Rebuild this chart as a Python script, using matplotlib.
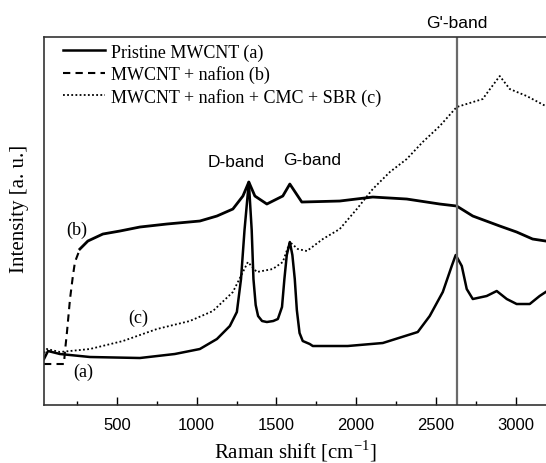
import numpy as np
import matplotlib
matplotlib.use('Agg')
import matplotlib.pyplot as plt


# Raman shift (cm-1) and intensity (a.u.)
shift_a = [43, 68, 143, 331, 644, 863, 1020, 1127, 1208, 1252, 1278, 1300, 1327,
           1345, 1356, 1370, 1385, 1410, 1440, 1480, 1509, 1535, 1550, 1565, 1584,
           1600, 1615, 1628, 1645, 1665, 1709, 1728, 1947, 2167, 2386, 2461, 2543,
           2599, 2624, 2662, 2693, 2731, 2818, 2881, 2944, 3006, 3088, 3150, 3188]
int_a = [46, 54, 51, 48, 47, 51, 56, 66, 79, 93, 126, 175, 223,
         175, 126, 100, 89, 84, 83, 84, 86, 98, 126, 150, 163,
         150, 126, 95, 72, 64, 61, 59, 59, 62, 73, 89, 113,
         139, 150, 139, 116, 106, 109, 114, 106, 101, 101, 109, 113]

shift_b = [43, 149, 168, 174, 187, 206, 224, 237, 268, 318, 412, 519, 644, 813,
           1020, 1127, 1227, 1290, 1327, 1365, 1440, 1540, 1584, 1659, 1897, 2104,
           2317, 2524, 2630, 2731, 2900, 3006, 3106, 3188]
int_b = [41, 41, 41, 53, 73, 106, 129, 143, 156, 164, 171, 174, 178, 181,
         184, 189, 196, 209, 223, 209, 201, 209, 221, 203, 204, 208,
         206, 201, 199, 189, 179, 173, 166, 164]

shift_c = [43, 61, 143, 331, 538, 751, 957, 1102, 1227, 1290, 1321, 1377, 1477,
           1540, 1584, 1634, 1691, 1791, 1897, 2004, 2104, 2211, 2317, 2417, 2524,
           2630, 2793, 2825, 2900, 2963, 3069, 3188]
int_c = [52, 56, 53, 56, 64, 76, 84, 94, 113, 133, 143, 133, 136,
         143, 163, 156, 154, 166, 176, 196, 216, 233, 246, 263, 279,
         298, 306, 313, 329, 316, 309, 299]

labels = ['Pristine MWCNT (a)', 'MWCNT + nafion (b)', 'MWCNT + nafion + CMC + SBR (c)']
g_prime = 2631

serif = 'Liberation Serif'
sans = 'Liberation Sans'

fig = plt.figure(figsize=(5.46, 4.64), dpi=100)
ax = fig.add_axes([0.0806, 0.125, 0.9194, 0.793])

la, = ax.plot(shift_a, int_a, '-', color='black', lw=1.8, label=labels[0])

# the rising part of (b) shows its dashes; the noisy plateau looks solid
n_dash = 9
lb, = ax.plot(shift_b[:n_dash], int_b[:n_dash], color='black', lw=1.5,
              dashes=(3.5, 2.5), label=labels[1])
ax.plot(shift_b[n_dash - 1:], int_b[n_dash - 1:], '-', color='black', lw=2.0)

lc, = ax.plot(shift_c, int_c, color='black', lw=1.3, dashes=(1, 1.3), label=labels[2])

ax.axvline(g_prime, color='#6a6a6a', lw=1.6)

ax.set_xlim(43, 3190)
ax.set_ylim(0, 368)
ax.set_xticks([500, 1000, 1500, 2000, 2500, 3000])
ax.set_xticks(np.arange(250, 3190, 500), minor=True)
ax.set_yticks([])
ax.tick_params(axis='x', which='major', direction='in', length=5.5, width=1.0,
               labelsize=12, pad=9)
ax.tick_params(axis='x', which='minor', direction='in', length=3, width=1.0)
for t in ax.get_xticklabels():
    t.set_fontfamily(sans)
ax.spines['right'].set_visible(False)
for s in ['left', 'bottom', 'top']:
    ax.spines[s].set_linewidth(1.2)
    ax.spines[s].set_color('#333333')

ax.set_xlabel('Raman shift [cm$^{\\mathregular{-1}}$]', fontfamily=serif, fontsize=15)
ax.set_ylabel('Intensity [a. u.]', fontfamily=serif, fontsize=15)
ax.xaxis.set_label_coords(0.5, -0.088)
ax.yaxis.set_label_coords(-0.03, 0.535)

ax.text(1246, 244, 'D-band', fontfamily=sans, fontsize=12.5, ha='center', va='center')
ax.text(1722, 246, 'G-band', fontfamily=sans, fontsize=12.5, ha='center', va='center')
ax.text(g_prime, 383, "G'-band", fontfamily=sans, fontsize=12.5, ha='center', va='center',
        clip_on=False)
ax.text(287, 34, '(a)', fontfamily=serif, fontsize=13, ha='center', va='center')
ax.text(249, 176, '(b)', fontfamily=serif, fontsize=13, ha='center', va='center')
ax.text(632, 88, '(c)', fontfamily=serif, fontsize=13, ha='center', va='center')

ax.legend(handles=[la, lb, lc], loc='upper left', bbox_to_anchor=(0.013, 1.017),
          frameon=False, prop={'family': serif, 'size': 13}, handlelength=2.3,
          handletextpad=0.35, labelspacing=0.25, borderaxespad=0.3)

plt.savefig('out.png', dpi=100)
